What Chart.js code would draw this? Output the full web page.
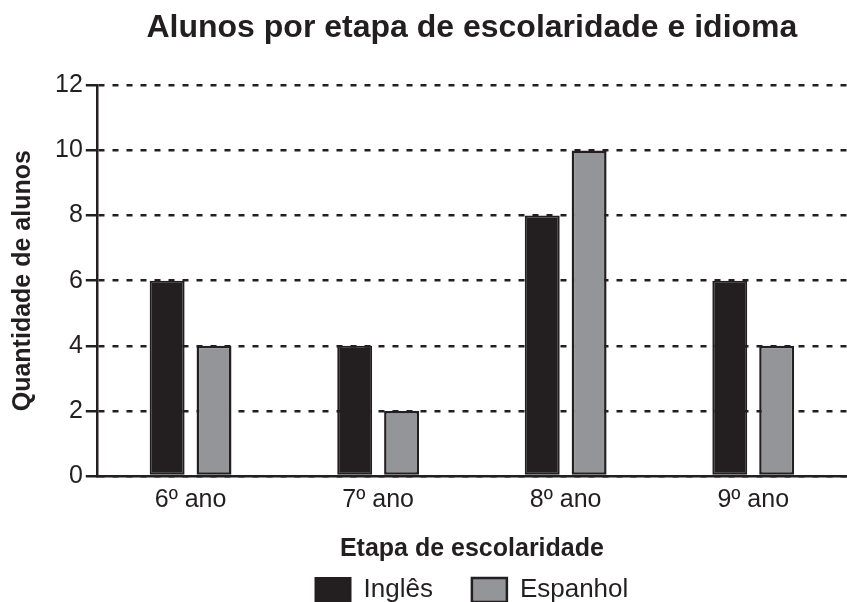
<!DOCTYPE html>
<html>
<head>
<meta charset="utf-8">
<script src="https://cdn.jsdelivr.net/npm/chart.js@4"></script>
<style>
  html, body { margin: 0; padding: 0; background: #fff; overflow: hidden; }
  #wrap { width: 847px; height: 602px; overflow: hidden; }
</style>
</head>
<body>
<div id="wrap"><canvas id="chart" width="847" height="613"></canvas></div>
<script>
// data
const etapas = ["6º ano", "7º ano", "8º ano", "9º ano"];
const ingles = [6, 4, 8, 6];
const espanhol = [4, 2, 10, 4];
const yTicks = [0, 2, 4, 6, 8, 10, 12];

const INK = '#231f20';
const GRAY = '#939598';
const FONT = '"Liberation Sans", Arial, sans-serif';

Chart.defaults.font.family = FONT;
Chart.defaults.color = INK;

new Chart(document.getElementById('chart'), {
  type: 'bar',
  data: {
    labels: etapas,
    datasets: [
      {
        label: 'Inglês',
        data: ingles,
        backgroundColor: INK,
        borderColor: INK,
        borderWidth: 2,
        borderSkipped: false
      },
      {
        label: 'Espanhol',
        data: espanhol,
        backgroundColor: GRAY,
        borderColor: INK,
        borderWidth: 2.5,
        borderSkipped: false
      }
    ]
  },
  options: {
    responsive: false,
    animation: false,
    categoryPercentage: 0.5,
    barPercentage: 0.745,
    layout: { padding: { left: 8, right: 0, top: 0, bottom: 0 } },
    plugins: {
      title: {
        display: true,
        fullSize: false,
        text: 'Alunos por etapa de escolaridade e idioma',
        font: { size: 32, weight: 'bold' },
        color: INK,
        padding: { top: 9, bottom: 38 }
      },
      legend: {
        position: 'bottom',
        fullSize: false,
        labels: {
          boxWidth: 35,
          boxHeight: 24,
          padding: 39,
          font: { size: 26 },
          color: INK
        }
      },
      tooltip: { enabled: false }
    },
    scales: {
      x: {
        grid: { display: false, drawTicks: false },
        border: { display: true, color: INK, width: 2.5 },
        ticks: { font: { size: 25 }, color: INK, padding: 9 },
        title: {
          display: true,
          text: 'Etapa de escolaridade',
          font: { size: 25, weight: 'bold' },
          color: INK,
          padding: { top: 10, bottom: -26 }
        }
      },
      y: {
        min: 0,
        max: 12,
        afterBuildTicks: (axis) => { axis.ticks = yTicks.map(v => ({ value: v })); },
        grid: {
          color: INK,
          lineWidth: 2.5,
          borderDash: [6, 8],
          drawTicks: true,
          tickLength: 11,
          tickColor: INK,
          tickWidth: 2.5,
          tickBorderDash: []
        },
        border: { display: true, color: INK, width: 2.5, dash: [6, 8] },
        ticks: { font: { size: 25 }, color: INK, padding: 3 },
        title: {
          display: true,
          text: 'Quantidade de alunos',
          font: { size: 25, weight: 'bold' },
          color: INK,
          padding: { top: 0, bottom: 14 }
        }
      }
    }
  }
});
</script>
</body>
</html>
